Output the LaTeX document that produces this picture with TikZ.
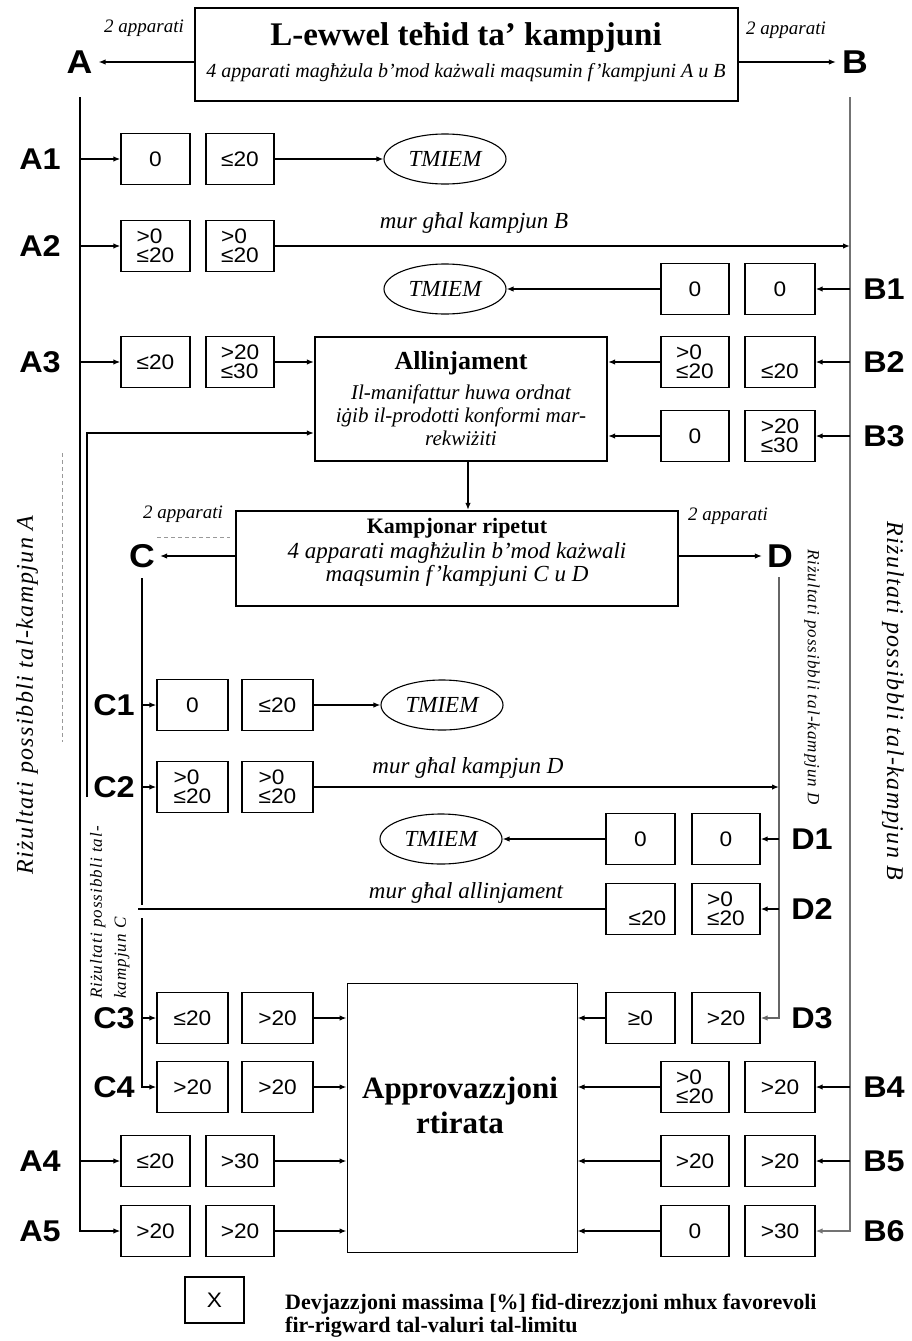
\documentclass[tikz,border=0pt]{standalone}
\usepackage{fontspec}
\setmainfont{Liberation Serif}
\newfontfamily\arialf[FakeStretch=1.08]{Liberation Sans}
\newfontfamily\spserif[LetterSpace=6]{Liberation Serif}
\usetikzlibrary{arrows.meta,shapes.geometric}
\newcommand\valbox[5]{\node[valb, minimum width={#3-#2}] (#1) at ({(#2+#3)/2},#4) {#5};}
\begin{document}
\begin{tikzpicture}[x=1pt,y=-1pt,
  conn/.style={line width=1.4pt, black},
  arr/.style={-{Latex[length=7pt,width=5.5pt]}},
  aline/.style={line width=2pt, black},
  bline/.style={line width=2pt, black!55},
  cline/.style={line width=1.6pt, black},
  dline/.style={line width=1.3pt, black!60},
  valb/.style={draw, line width=1.3pt, inner sep=0pt, align=left, minimum height=51pt,
    font=\arialf\fontsize{21}{19.5}\selectfont},
  rowlbl/.style={inner sep=0pt, font=\arialf\bfseries\fontsize{30}{30}\selectfont},
  biglbl/.style={inner sep=0pt, font=\arialf\bfseries\fontsize{33}{33}\selectfont},
  tm/.style={draw, ellipse, line width=1.1pt, minimum width=122pt, minimum height=50pt, inner sep=0pt,
    font=\itshape\fontsize{23}{23}\selectfont},
  note/.style={inner sep=0pt, font=\itshape\fontsize{19}{19}\selectfont},
  path/.style={inner sep=0pt, font=\itshape\fontsize{23}{23}\selectfont},
  bigbox/.style={draw, line width=2.2pt, inner sep=0pt},
  faint/.style={draw=black!40, line width=0.7pt, dash pattern=on 4pt off 3pt}
]
\useasboundingbox (0,0) rectangle (912,1341);

% ---------- first sampling ----------
\node[bigbox, line width=2.6pt, minimum width=543pt, minimum height=93pt] (top) at (466.5,54.5) {};
\node[inner sep=0pt, font=\bfseries\fontsize{33}{33}\selectfont] (t1) at (466,38) {L-ewwel teħid ta’ kampjuni};
\node[inner sep=0pt, font=\itshape\fontsize{20}{20}\selectfont] (t2) at (466,73) {4 apparati magħżula b’mod każwali maqsumin f’kampjuni A u B};
\node[note] (n1) at (144,28) {2 apparati};
\node[note] (n2) at (786,30) {2 apparati};
\node[biglbl] (A) at (79.5,62) {A};
\node[biglbl] (B) at (855,62) {B};
\draw[conn,arr] (top.west |- A) -- ([xshift=6pt]A.east);
\draw[conn,arr] (top.east |- B) -- ([xshift=-6pt]B.west);
\coordinate (Atop) at (79.5,97);
\coordinate (Btop) at (850,97);

% ---------- A side boxes ----------
\valbox{A1a}{121}{190}{159}{0}
\valbox{A1b}{206}{274}{159}{≤20}
\valbox{A2a}{121}{190}{246}{>0\\≤20}
\valbox{A2b}{206}{274}{246}{>0\\≤20}
\valbox{A3a}{121}{190}{362}{≤20}
\valbox{A3b}{206}{274}{362}{>20\\≤30}
\valbox{A4a}{121}{190}{1161}{≤20}
\valbox{A4b}{206}{274}{1161}{>30}
\valbox{A5a}{121}{190}{1231}{>20}
\valbox{A5b}{206}{274}{1231}{>20}
% ---------- B side boxes ----------
\valbox{B1a}{661}{729}{289}{0}
\valbox{B1b}{745}{815}{289}{0}
\valbox{B2a}{661}{729}{362}{>0\\≤20}
\valbox{B2b}{745}{815}{362}{\phantom{>0}\\≤20}
\valbox{B3a}{661}{729}{436}{0}
\valbox{B3b}{745}{815}{436}{>20\\≤30}
\valbox{B4a}{661}{729}{1087}{>0\\≤20}
\valbox{B4b}{745}{815}{1087}{>20}
\valbox{B5a}{661}{729}{1161}{>20}
\valbox{B5b}{745}{815}{1161}{>20}
\valbox{B6a}{661}{729}{1231}{0}
\valbox{B6b}{745}{815}{1231}{>30}
% ---------- C side boxes ----------
\valbox{C1a}{157}{228}{705}{0}
\valbox{C1b}{242}{313}{705}{≤20}
\valbox{C2a}{157}{228}{787}{>0\\≤20}
\valbox{C2b}{242}{313}{787}{>0\\≤20}
\valbox{C3a}{157}{228}{1018}{≤20}
\valbox{C3b}{242}{313}{1018}{>20}
\valbox{C4a}{157}{228}{1087}{>20}
\valbox{C4b}{242}{313}{1087}{>20}
% ---------- D side boxes ----------
\valbox{D1a}{606}{675}{839}{0}
\valbox{D1b}{692}{760}{839}{0}
\valbox{D2a}{606}{675}{909}{\phantom{>0}\\\hspace*{14pt}≤20}
\valbox{D2b}{692}{760}{909}{>0\\≤20}
\valbox{D3a}{606}{675}{1018}{≥0}
\valbox{D3b}{692}{760}{1018}{>20}

% ---------- row labels ----------
\foreach \n/\y in {A1/159,A2/246,A3/362,A4/1161,A5/1231} \node[rowlbl] (l\n) at (40,\y) {\n};
\foreach \n/\y in {B1/289,B2/362,B3/436,B4/1087,B5/1161,B6/1231} \node[rowlbl] (l\n) at (884,\y) {\n};
\foreach \n/\y in {C1/705,C2/787,C3/1018,C4/1087} \node[rowlbl] (l\n) at (114,\y) {\n};
\foreach \n/\y in {D1/839,D2/909,D3/1018} \node[rowlbl] (l\n) at (812,\y) {\n};

% ---------- TMIEM ----------
\node[tm] (T1) at (445,159) {TMIEM};
\node[tm] (T2) at (445,289) {TMIEM};
\node[tm] (T3) at (442,705) {TMIEM};
\node[tm] (T4) at (441,839) {TMIEM};

% ---------- Allinjament ----------
\node[bigbox, minimum width=292pt, minimum height=124pt] (allin) at (461,399) {};
\node[inner sep=0pt, font=\bfseries\fontsize{26}{26}\selectfont] (allt) at (461,363) {Allinjament};
\node[inner sep=0pt, align=center, font=\itshape\fontsize{21}{23}\selectfont] (alls) at (461,415)
  {Il-manifattur huwa ordnat\\iġib il-prodotti konformi mar-\\rekwiżiti};

% ---------- Kampjonar ripetut ----------
\node[bigbox, minimum width=442pt, minimum height=95pt] (kamp) at (457,558.5) {};
\node[inner sep=0pt, font=\bfseries\fontsize{22}{22}\selectfont] (kt) at (457,528) {Kampjonar ripetut};
\node[inner sep=0pt, align=center, font=\itshape\fontsize{23}{23}\selectfont] (ks) at (457,564)
  {4 apparati magħżulin b’mod każwali\\maqsumin f’kampjuni C u D};
\node[note] (n3) at (183,514) {2 apparati};
\node[note] (n4) at (728,516) {2 apparati};
\node[biglbl] (C) at (142,556) {C};
\node[biglbl] (D) at (780,556) {D};
\draw[conn,arr] (kamp.west |- C) -- ([xshift=5pt]C.east);
\draw[conn,arr] (kamp.east |- D) -- ([xshift=-5pt]D.west);
\coordinate (fa1) at (157,537);
\coordinate (fa2) at (230,537);
\draw[faint] (fa1) -- (fa2);

% ---------- Approvazzjoni ----------
\node[draw, line width=1pt, inner sep=0pt, minimum width=230pt, minimum height=269pt] (appr) at (462,1117.5) {};
\node[inner sep=0pt, align=center, font=\bfseries\fontsize{31}{35}\selectfont] (apprt) at (460,1105) {Approvazzjoni\\rtirata};

% ---------- main vertical lines ----------
\draw[aline,arr] (Atop) |- (A5a.west);
\draw[bline,arr] (Btop) |- (B6b.east);
\foreach \r in {A1,A2,A3,A4} \draw[conn,arr] (\r a.west -| Atop) -- (\r a.west);
\foreach \r in {B1,B2,B3,B4,B5} \draw[conn,arr] (\r b.east -| Btop) -- (\r b.east);

\coordinate (Ctop) at (142,578);
\coordinate (Cg1) at (142,905);
\coordinate (Cg2) at (142,918);
\draw[cline] (Ctop) -- (Cg1);
\draw[cline,arr] (Cg2) |- (C4a.west);
\foreach \r in {C1,C2,C3} \draw[conn,arr] (\r a.west -| Ctop) -- (\r a.west);

\coordinate (Dtop) at (779,577);
\draw[dline,arr] (Dtop) |- (D3b.east);
\foreach \r in {D1,D2} \draw[conn,arr] (\r b.east -| Dtop) -- (\r b.east);

% ---------- horizontal flows ----------
\draw[conn,arr] (A1b.east) -- (T1.west);
\draw[conn,arr] (A2b.east) -- (A2b.east -| Btop);
\node[path] (m1) at (474,223) {mur għal kampjun B};
\draw[conn,arr] (B1a.west) -- (T2.east);
\draw[conn,arr] (A3b.east) -- (A3b.east -| allin.west);
\draw[conn,arr] (B2a.west) -- (B2a.west -| allin.east);
\draw[conn,arr] (B3a.west) -- (B3a.west -| allin.east);
\coordinate (fb) at (87,797);
\draw[conn,arr] (fb) |- ([yshift=-34pt]allin.west);
\draw[conn,arr] ([xshift=7pt]allin.south) -- ([xshift=7pt]allin.south |- kamp.north);

\draw[conn,arr] (C1b.east) -- (T3.west);
\draw[conn,arr] (C2b.east) -- (C2b.east -| Dtop);
\node[path] (m2) at (468,768) {mur għal kampjun D};
\draw[conn,arr] (D1a.west) -- (T4.east);
\coordinate (Cjoin) at (138,909);
\draw[line width=1.2pt] (D2a.west) -- (D2a.west -| Cjoin);
\node[path] (m3) at (466,893) {mur għal allinjament};

\foreach \r in {C3,C4,A4,A5} \draw[conn,arr] (\r b.east) -- (\r b.east -| appr.west);
\foreach \r in {D3,B4,B5,B6} \draw[conn,arr] (\r a.west) -- (\r a.west -| appr.east);

% ---------- rotated captions ----------
\node[rotate=90, inner sep=0pt, font=\spserif\itshape\fontsize{24}{24}\selectfont] (rA) at (27,695) {Riżultati possibbli tal-kampjun A};
\node[rotate=-90, inner sep=0pt, font=\spserif\itshape\fontsize{24}{24}\selectfont] (rB) at (893,701) {Riżultati possibbli tal-kampjun B};
\node[rotate=-90, inner sep=0pt, font=\spserif\itshape\fontsize{17}{17}\selectfont] (rD) at (812,677) {Riżultati possibbli tal-kampjun D};
\node[rotate=90, anchor=north west, align=left, inner sep=0pt, font=\spserif\itshape\fontsize{17}{24}\selectfont] (rC) at (90,999) {Riżultati possibbli tal-\\kampjun C};
\coordinate (fv1) at (62,453);
\coordinate (fv2) at (62,742);
\draw[faint] (fv1) -- (fv2);

% ---------- legend ----------
\node[draw, line width=1.3pt, inner sep=0pt, minimum width=59pt, minimum height=46pt, font=\arialf\fontsize{21}{21}\selectfont] (leg) at (214.5,1300) {X};
\node[anchor=west, align=left, inner sep=0pt, font=\bfseries\fontsize{22}{23}\selectfont] (legt) at (285,1316)
  {Devjazzjoni massima [\%] fid-direzzjoni mhux favorevoli\\fir-rigward tal-valuri tal-limitu};
\end{tikzpicture}
\end{document}
